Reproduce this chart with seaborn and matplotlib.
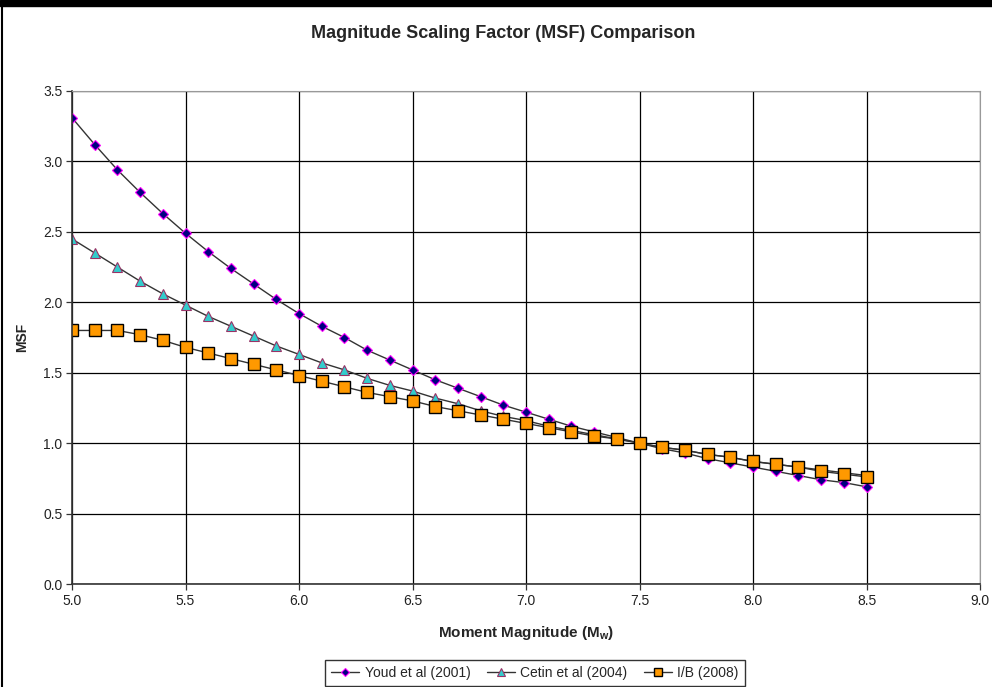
import numpy as np
import pandas as pd
import matplotlib
matplotlib.use('Agg')
import matplotlib.pyplot as plt
import seaborn as sns

# magnitudes (Mw)
mw = [5.0, 5.1, 5.2, 5.3, 5.4, 5.5, 5.6, 5.7, 5.8, 5.9,
      6.0, 6.1, 6.2, 6.3, 6.4, 6.5, 6.6, 6.7, 6.8, 6.9,
      7.0, 7.1, 7.2, 7.3, 7.4, 7.5, 7.6, 7.7, 7.8, 7.9,
      8.0, 8.1, 8.2, 8.3, 8.4, 8.5]

youd = [3.31, 3.12, 2.94, 2.78, 2.63, 2.49, 2.36, 2.24, 2.13, 2.02,
        1.92, 1.83, 1.75, 1.66, 1.59, 1.52, 1.45, 1.39, 1.33, 1.27,
        1.22, 1.17, 1.12, 1.08, 1.04, 1.00, 0.96, 0.93, 0.89, 0.86,
        0.83, 0.80, 0.77, 0.74, 0.72, 0.69]

cetin = [2.45, 2.35, 2.25, 2.15, 2.06, 1.98, 1.90, 1.83, 1.76, 1.69,
         1.63, 1.57, 1.52, 1.46, 1.41, 1.37, 1.32, 1.28, 1.23, 1.19,
         1.16, 1.12, 1.09, 1.06, 1.03, 1.00, 0.97, 0.95, 0.92, 0.90,
         0.87, 0.85, 0.83, 0.81, 0.79, 0.77]

ib = [1.80, 1.80, 1.80, 1.77, 1.73, 1.68, 1.64, 1.60, 1.56, 1.52,
      1.48, 1.44, 1.40, 1.36, 1.33, 1.30, 1.26, 1.23, 1.20, 1.17,
      1.14, 1.11, 1.08, 1.05, 1.03, 1.00, 0.97, 0.95, 0.92, 0.90,
      0.87, 0.85, 0.83, 0.80, 0.78, 0.76]

labels = ['Youd et al (2001)', 'Cetin et al (2004)', 'I/B (2008)']
xticks = [5.0, 5.5, 6.0, 6.5, 7.0, 7.5, 8.0, 8.5, 9.0]
yticks = [0.0, 0.5, 1.0, 1.5, 2.0, 2.5, 3.0, 3.5]

sns.set_style('white')
plt.rcParams['font.family'] = ['Liberation Sans', 'DejaVu Sans']

fig = plt.figure(figsize=(9.92, 6.87), dpi=100)
ax = fig.add_axes([72 / 992, 1 - 584 / 687, 908 / 992, 493 / 687])

styles = [
    dict(marker='D', markersize=5, markerfacecolor='#000080', markeredgecolor='#FF00FF', markeredgewidth=0.8),
    dict(marker='^', markersize=7, markerfacecolor='#33CCCC', markeredgecolor='#993366', markeredgewidth=0.8),
    dict(marker='s', markersize=8, markerfacecolor='#FF9900', markeredgecolor='#000000', markeredgewidth=1.0),
]

for vals, lab, st in zip([youd, cetin, ib], labels, styles):
    df = pd.DataFrame({'Mw': mw, 'MSF': vals})
    sns.lineplot(data=df, x='Mw', y='MSF', ax=ax, color='#333333', linewidth=1.0,
                 label=lab, **st)

ax.set_xlim(5.0, 9.0)
ax.set_ylim(0.0, 3.5)
ax.set_xticks(xticks)
ax.set_yticks(yticks)
ax.set_xticklabels([f'{t:.1f}' for t in xticks])
ax.set_yticklabels([f'{t:.1f}' for t in yticks])
ax.grid(True, color='black', linewidth=0.9)
ax.set_axisbelow(True)
for s in ['top', 'right']:
    ax.spines[s].set_color('#999999')
    ax.spines[s].set_linewidth(0.8)
for s in ['left', 'bottom']:
    ax.spines[s].set_color('#333333')
    ax.spines[s].set_linewidth(1.2)
ax.tick_params(axis='both', direction='out', length=4, width=0.9, color='#333333',
               labelsize=10, labelcolor='#222222', bottom=True, left=True, pad=3)

ax.set_xlabel('Moment Magnitude (M$_\\mathregular{w}$)', fontsize=11, fontweight='bold', labelpad=12)
ax.set_ylabel('MSF', fontsize=10, fontweight='bold', labelpad=10)
fig.text(0.507, 1 - 33 / 687, 'Magnitude Scaling Factor (MSF) Comparison',
         ha='center', va='center', fontsize=13, fontweight='bold')

leg = ax.legend(loc='upper center', bbox_to_anchor=(0.51, -0.14), ncol=3,
                frameon=True, fontsize=10, handlelength=2.0, columnspacing=1.2,
                handletextpad=0.4, borderpad=0.45, fancybox=False, markerscale=0.8)
leg.get_frame().set_edgecolor('black')
leg.get_frame().set_linewidth(1.0)

# chart border
fig.patches.append(plt.Rectangle((0, 1 - 6 / 687), 1, 6 / 687, transform=fig.transFigure,
                                 color='black', zorder=10))
fig.add_artist(plt.Line2D([2 / 992, 2 / 992], [0, 1], color='black', linewidth=1.5,
                          transform=fig.transFigure))

fig.savefig('out.png', dpi=100)
